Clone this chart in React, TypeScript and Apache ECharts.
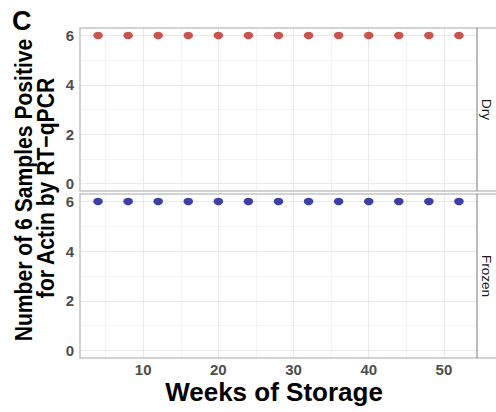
import React, { useEffect, useRef } from "react";
import * as echarts from "echarts";

const weeks = [4, 8, 12, 16, 20, 24, 28, 32, 36, 40, 44, 48, 52];
const dryPositive = [6, 6, 6, 6, 6, 6, 6, 6, 6, 6, 6, 6, 6];
const frozenPositive = [6, 6, 6, 6, 6, 6, 6, 6, 6, 6, 6, 6, 6];
const panelNames = ["Dry", "Frozen"];
const xMajorTicks = [10, 20, 30, 40, 50];
const xMinorTicks = [5, 15, 25, 35, 45];
const yMajorTicks = [0, 2, 4, 6];
const yMinorTicks = [1, 3, 5];
const xRange = [1.6, 54.4];
const yRange = [-0.3, 6.3];

const SANS = "'Liberation Sans', Arial, sans-serif";

export default function App() {
  const ref = useRef<HTMLDivElement>(null);
  useEffect(() => {
    if (!ref.current) return;
    const chart = echarts.init(ref.current, undefined, { renderer: "svg" });
    const L = 80, W = 397;
    const grids = [
      { left: L, top: 28, width: W, height: 163 },
      { left: L, top: 194, width: W, height: 164 },
    ];
    const seriesVals = [dryPositive, frozenPositive];
    const colors = ["#c9534f", "#3d3fa3"];

    const gridLines = (idx: number) => ({
      type: "scatter",
      xAxisIndex: idx,
      yAxisIndex: idx,
      data: [],
      silent: true,
      markLine: {
        silent: true,
        symbol: "none",
        z: 0,
        label: { show: false },
        animation: false,
        data: [
          ...xMinorTicks.map((v) => ({ xAxis: v, lineStyle: { color: "#f3f3f3", width: 1, type: "solid" } })),
          ...yMinorTicks.map((v) => ({ yAxis: v, lineStyle: { color: "#f3f3f3", width: 1, type: "solid" } })),
          ...xMajorTicks.map((v) => ({ xAxis: v, lineStyle: { color: "#e9e9e9", width: 1, type: "solid" } })),
          ...yMajorTicks.map((v) => ({ yAxis: v, lineStyle: { color: "#e9e9e9", width: 1, type: "solid" } })),
        ],
      },
    });

    const graphics: any[] = [];
    grids.forEach((g, i) => {
      graphics.push({
        type: "rect",
        silent: true,
        z: 5,
        shape: { x: g.left, y: g.top, width: 500 - g.left, height: g.height },
        style: { fill: "none", stroke: "#c4c4c4", lineWidth: 1.5 },
      });
      graphics.push({
        type: "line",
        silent: true,
        z: 6,
        shape: { x1: g.left + g.width, y1: g.top, x2: g.left + g.width, y2: g.top + g.height },
        style: { stroke: "#7a7a7a", lineWidth: 1 },
      });
      graphics.push({
        type: "text",
        silent: true,
        x: 486,
        y: g.top + g.height / 2,
        rotation: -Math.PI / 2,
        style: {
          text: panelNames[i],
          font: `13.5px ${SANS}`,
          fill: "#1a1a1a",
          textAlign: "center",
          textVerticalAlign: "middle",
        },
      });
    });
    graphics.push({
      type: "text",
      silent: true,
      x: 12,
      y: 7,
      style: { text: "C", font: `bold 27px ${SANS}`, fill: "#000", textAlign: "left", textVerticalAlign: "top" },
    });
    graphics.push({
      type: "text",
      silent: true,
      x: 24,
      y: 190,
      rotation: Math.PI / 2,
      scaleX: 0.88,
      style: {
        text: "Number of 6 Samples Positive",
        font: `bold 24px ${SANS}`,
        fill: "#000",
        textAlign: "center",
        textVerticalAlign: "middle",
      },
    });
    graphics.push({
      type: "text",
      silent: true,
      x: 46,
      y: 188,
      rotation: Math.PI / 2,
      scaleX: 0.88,
      style: {
        text: "for Actin by RT\u2212qPCR",
        font: `bold 24px ${SANS}`,
        fill: "#000",
        textAlign: "center",
        textVerticalAlign: "middle",
      },
    });
    graphics.push({
      type: "text",
      silent: true,
      x: 274,
      y: 392,
      style: {
        text: "Weeks of Storage",
        font: `bold 26px ${SANS}`,
        fill: "#000",
        textAlign: "center",
        textVerticalAlign: "middle",
      },
    });

    const option: any = {
      animation: false,
      backgroundColor: "#ffffff",
      grid: grids.map((g) => ({ ...g, containLabel: false })),
      xAxis: grids.map((g, i) => ({
        type: "value",
        gridIndex: i,
        min: xRange[0],
        max: xRange[1],
        axisLine: { show: false },
        axisTick: { show: false },
        splitLine: { show: false },
        axisLabel: {
          show: i === 1,
          customValues: xMajorTicks,
          margin: 4,
          color: "#4d4d4d",
          fontFamily: SANS,
          fontWeight: "bold",
          fontSize: 15,
        },
      })),
      yAxis: grids.map((g, i) => ({
        type: "value",
        gridIndex: i,
        min: yRange[0],
        max: yRange[1],
        axisLine: { show: false },
        axisTick: { show: false },
        splitLine: { show: false },
        axisLabel: {
          customValues: yMajorTicks,
          margin: 6,
          color: "#4d4d4d",
          fontFamily: SANS,
          fontWeight: "bold",
          fontSize: 15,
        },
      })),
      series: [
        gridLines(0),
        gridLines(1),
        ...seriesVals.map((vals, i) => ({
          type: "scatter",
          name: panelNames[i],
          xAxisIndex: i,
          yAxisIndex: i,
          z: 10,
          symbol: "circle",
          symbolSize: [9.5, 7.5],
          itemStyle: { color: colors[i], opacity: 1 },
          data: weeks.map((w, k) => [w, vals[k]]),
        })),
      ],
      graphic: graphics,
    };
    chart.setOption(option);
    return () => chart.dispose();
  }, []);
  return (
    <div
      ref={ref}
      style={{ position: "fixed", left: 0, top: 0, width: 496, height: 412 }}
    />
  );
}
